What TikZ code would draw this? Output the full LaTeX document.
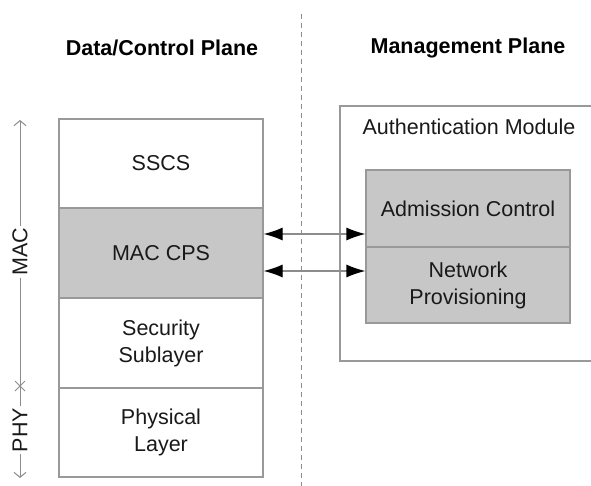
\documentclass[tikz,border=0pt]{standalone}
\usepackage{fontspec}
\setmainfont{Liberation Sans}
\usetikzlibrary{arrows.meta,calc}
\begin{document}
\begin{tikzpicture}[x=1pt,y=-1pt,
  box/.style={draw=black!40,line width=1.2pt},
  graybox/.style={box,fill=black!22},
  lbl/.style={font=\fontsize{21.5}{27}\selectfont,align=center,text=black!90},
  head/.style={font=\fontsize{21.5}{26}\selectfont\bfseries,text=black},
  conn/.style={draw=black!45,line width=1.2pt,{Latex[length=19pt,width=13pt,black]}-{Latex[length=19pt,width=13pt,black]}}
]
\useasboundingbox (0,0) rectangle (591,486);
% dashed divider
\draw[black!45,dash pattern=on 5pt off 4pt,line width=1pt] (301,14) coordinate (dtop) -- (301,486) coordinate (dbot);
% headings
\node[head] (hd) at (162,48) {Data/Control Plane};
\node[head] (hm) at (468,48) {Management Plane};
% left stack
\node[box,minimum width=204,minimum height=89,inner sep=0] (sscs) at (161,163.5) {};
\node[graybox,minimum width=204,minimum height=90,inner sep=0] (cps) at (161,253) {};
\node[box,minimum width=204,minimum height=90,inner sep=0] (sec) at (161,343) {};
\node[box,minimum width=204,minimum height=89,inner sep=0] (phy) at (161,432.5) {};
\node[lbl] at (sscs) {SSCS};
\node[lbl] at (cps) {MAC CPS};
\node[lbl] at (sec) {Security\\Sublayer};
\node[lbl] at (phy) {Physical\\Layer};
% auth module
\node[box,minimum width=252,minimum height=255,inner sep=0] (auth) at (466,233.5) {};
\node[lbl] (authl) at (469,127) {Authentication Module};
\node[graybox,minimum width=204,minimum height=77,inner sep=0] (adm) at (468,208.5) {};
\node[graybox,minimum width=204,minimum height=76,inner sep=0] (net) at (468,285) {};
\node[lbl] at (adm) {Admission Control};
\node[lbl] at (net) {Network\\Provisioning};
% connectors
\coordinate (a1l) at (sscs.east |- 0,234);
\coordinate (a1r) at (adm.west |- 0,234);
\coordinate (a2l) at (sscs.east |- 0,271);
\coordinate (a2r) at (adm.west |- 0,271);
\draw[conn] (a1l) -- (a1r);
\draw[conn] (a2l) -- (a2r);
% left axis
\coordinate (at) at (20,120);
\coordinate (ax) at (20,386);
\coordinate (ab) at (20,478);
\node[lbl,rotate=90,inner sep=2pt] (mac) at (20,252) {MAC};
\node[lbl,rotate=90,inner sep=2pt] (phyl) at (20,430) {PHY};
\draw[black!45,line width=1pt,{Straight Barb[length=5pt,width=12pt]}-] (at) -- (mac.east);
\draw[black!45,line width=1pt] (mac.west) -- (ax);
\draw[black!45,line width=1pt] (ax) -- (phyl.east);
\draw[black!45,line width=1pt,-{Straight Barb[length=5pt,width=12pt]}] (phyl.west) -- (ab);
\draw[black!45,line width=1pt] ($(ax)+(-5,-5)$) -- ($(ax)+(5,5)$) ($(ax)+(-5,5)$) -- ($(ax)+(5,-5)$);
\end{tikzpicture}
\end{document}
